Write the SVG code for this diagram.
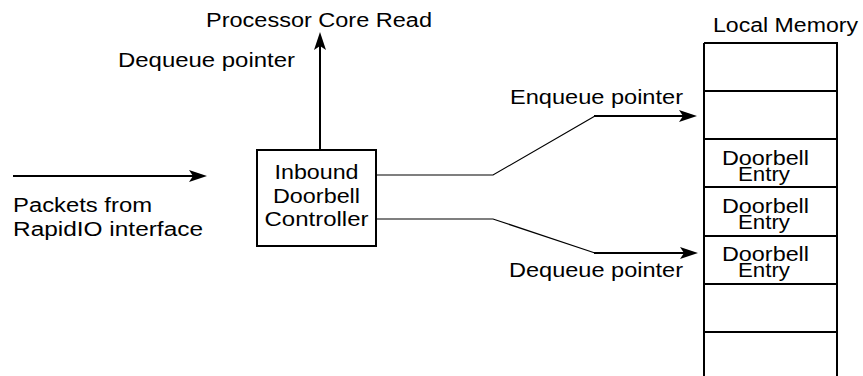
<svg xmlns="http://www.w3.org/2000/svg" width="863" height="376" viewBox="0 0 863 376">
  <style>
    .t { font-family: "Liberation Sans", Arial, Helvetica, sans-serif; font-size: 20px; fill: #000; }
    .box { fill: #fff; stroke: #000; stroke-width: 2; }
    .mem { stroke: #000; stroke-width: 2; fill: none; }
    .arrow { stroke: #000; stroke-width: 2; fill: none; marker-end: url(#ah); }
    .thin { stroke: #000; stroke-width: 1.2; fill: none; }
  </style>
  <defs>
    <marker id="ah" viewBox="0 0 18 12" refX="14" refY="6" markerWidth="18" markerHeight="12" markerUnits="userSpaceOnUse" orient="auto">
      <path d="M0,0 L18,6 L0,12 L4,6 Z" fill="#000"/>
    </marker>
  </defs>

  <rect width="863" height="376" fill="#fff"/>

  <g id="connectors">
    <path class="arrow" d="M13,176 L203,176"/>
    <path class="arrow" d="M320,150 L320,36"/>
    <path class="thin" d="M376,175 L493,175 L595,116"/>
    <path class="arrow" d="M594,116 L693,116"/>
    <path class="thin" d="M376,219 L493,219 L595,253"/>
    <path class="arrow" d="M594,253 L694,253"/>
  </g>

  <g id="packets-label">
    <text class="t" x="13" y="212" textLength="139" lengthAdjust="spacingAndGlyphs">Packets from</text>
    <text class="t" x="13" y="236" textLength="190" lengthAdjust="spacingAndGlyphs">RapidIO interface</text>
  </g>

  <g id="processor-core-read">
    <text class="t" x="206" y="27" textLength="226" lengthAdjust="spacingAndGlyphs">Processor Core Read</text>
  </g>

  <g id="dequeue-pointer-top">
    <text class="t" x="118" y="67" textLength="177" lengthAdjust="spacingAndGlyphs">Dequeue pointer</text>
  </g>

  <g id="controller">
    <rect class="box" x="257" y="150" width="119" height="96"/>
    <text class="t" x="316.5" y="179" text-anchor="middle" textLength="84" lengthAdjust="spacingAndGlyphs">Inbound</text>
    <text class="t" x="316.5" y="203" text-anchor="middle" textLength="87" lengthAdjust="spacingAndGlyphs">Doorbell</text>
    <text class="t" x="316.5" y="226" text-anchor="middle" textLength="104" lengthAdjust="spacingAndGlyphs">Controller</text>
  </g>

  <g id="enqueue-pointer-label">
    <text class="t" x="510" y="104" textLength="173" lengthAdjust="spacingAndGlyphs">Enqueue pointer</text>
  </g>

  <g id="dequeue-pointer-bottom">
    <text class="t" x="509" y="277" textLength="174" lengthAdjust="spacingAndGlyphs">Dequeue pointer</text>
  </g>

  <g id="local-memory">
    <text class="t" x="713" y="32" textLength="145" lengthAdjust="spacingAndGlyphs">Local Memory</text>
    <path class="mem" d="M704,43 L704,376 M837,43 L837,376"/>
    <path class="mem" d="M704,43 H838 M704,91 H838 M704,139 H838 M704,187 H838 M704,236 H838 M704,284 H838 M704,332 H838"/>
    <g id="entry-1">
      <text class="t" x="765.5" y="165" text-anchor="middle" textLength="87" lengthAdjust="spacingAndGlyphs">Doorbell</text>
      <text class="t" x="764" y="181" text-anchor="middle" textLength="52" lengthAdjust="spacingAndGlyphs">Entry</text>
    </g>
    <g id="entry-2">
      <text class="t" x="765.5" y="213" text-anchor="middle" textLength="87" lengthAdjust="spacingAndGlyphs">Doorbell</text>
      <text class="t" x="764" y="229" text-anchor="middle" textLength="52" lengthAdjust="spacingAndGlyphs">Entry</text>
    </g>
    <g id="entry-3">
      <text class="t" x="765.5" y="261" text-anchor="middle" textLength="87" lengthAdjust="spacingAndGlyphs">Doorbell</text>
      <text class="t" x="764" y="277" text-anchor="middle" textLength="52" lengthAdjust="spacingAndGlyphs">Entry</text>
    </g>
  </g>
</svg>
